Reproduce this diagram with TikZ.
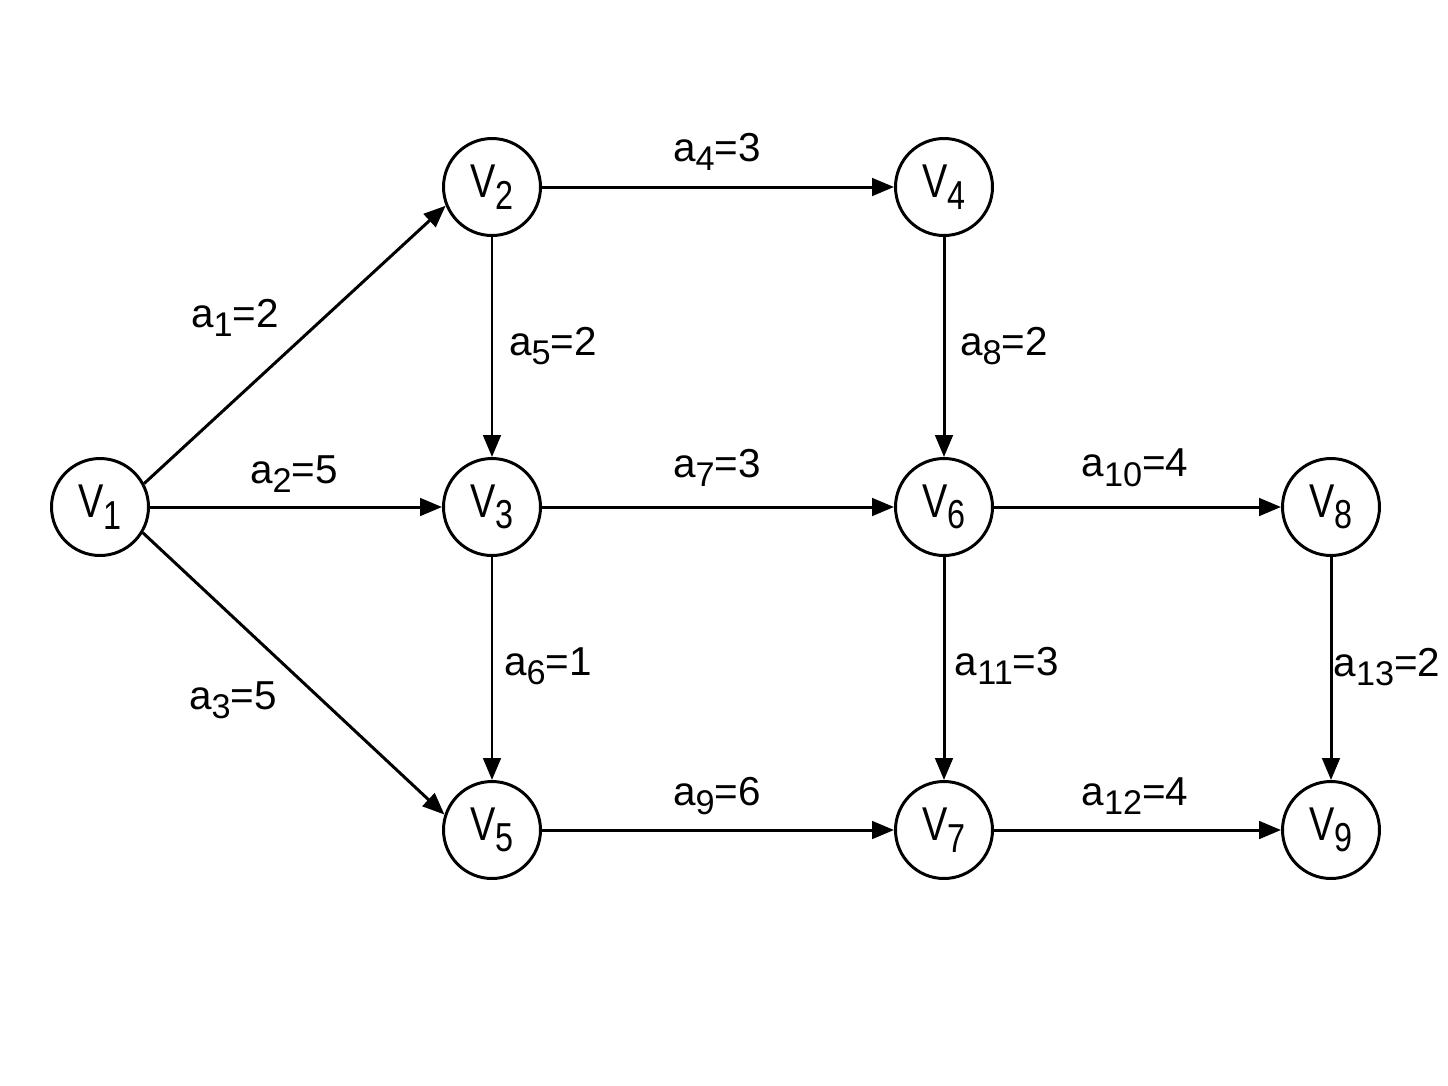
\documentclass[tikz,border=0pt]{standalone}
\usepackage{fontspec}
\setmainfont{Liberation Sans}
\newfontfamily\vfont[FakeStretch=0.8]{Liberation Sans}
\usetikzlibrary{arrows.meta}
\newcommand{\vn}[1]{V\raisebox{-6.5pt}{\fontsize{23}{23}\selectfont #1}}
\newcommand{\al}[2]{a\raisebox{-5.4pt}{\fontsize{19.5}{19.5}\selectfont #1}=#2}
\begin{document}
\begin{tikzpicture}[x=0.02cm,y=-0.02cm,
  vert/.style={circle,draw,line width=1.7pt,minimum size=1.94cm,inner sep=0pt,
    font=\vfont\fontsize{27}{27}\selectfont},
  lab/.style={inner sep=0pt,font=\fontsize{23}{23}\selectfont},
  arc/.style={line width=1.7pt,-{Triangle[length=12.5pt,width=10pt]}}]
\useasboundingbox[fill=white] (0,0) rectangle (1448,1086);
\node[vert] (v1) at (100,507) {\vn{1}};
\node[vert] (v2) at (492,187) {\vn{2}};
\node[vert] (v3) at (492,507) {\vn{3}};
\node[vert] (v4) at (944,187) {\vn{4}};
\node[vert] (v5) at (492,830) {\vn{5}};
\node[vert] (v6) at (944,507) {\vn{6}};
\node[vert] (v7) at (944,830) {\vn{7}};
\node[vert] (v8) at (1331,507) {\vn{8}};
\node[vert] (v9) at (1331,830) {\vn{9}};
\draw[arc] (v1.28) -- (v2.202);
\draw[arc] (v1) -- (v3);
\draw[arc] (v1.-31) -- (v5.162);
\draw[arc] (v2) -- (v4);
\draw[arc] (v2) -- (v3);
\draw[arc] (v3) -- (v5);
\draw[arc] (v3) -- (v6);
\draw[arc] (v4) -- (v6);
\draw[arc] (v5) -- (v7);
\draw[arc] (v6) -- (v8);
\draw[arc] (v6) -- (v7);
\draw[arc] (v7) -- (v9);
\draw[arc] (v8) -- (v9);
\node[lab] (l1) at (235,318) {\al{1}{2}};
\node[lab] (l2) at (294,474) {\al{2}{5}};
\node[lab] (l3) at (233,700) {\al{3}{5}};
\node[lab] (l4) at (717,152) {\al{4}{3}};
\node[lab] (l5) at (553,346) {\al{5}{2}};
\node[lab] (l6) at (548,666) {\al{6}{1}};
\node[lab] (l7) at (717,468) {\al{7}{3}};
\node[lab] (l8) at (1004,346) {\al{8}{2}};
\node[lab] (l9) at (717,796) {\al{9}{6}};
\node[lab] (l10) at (1135,468) {\al{10}{4}};
\node[lab] (l11) at (1007,666) {\al{11}{3}};
\node[lab] (l12) at (1135,796) {\al{12}{4}};
\node[lab] (l13) at (1387,667) {\al{13}{2}};
\end{tikzpicture}
\end{document}
